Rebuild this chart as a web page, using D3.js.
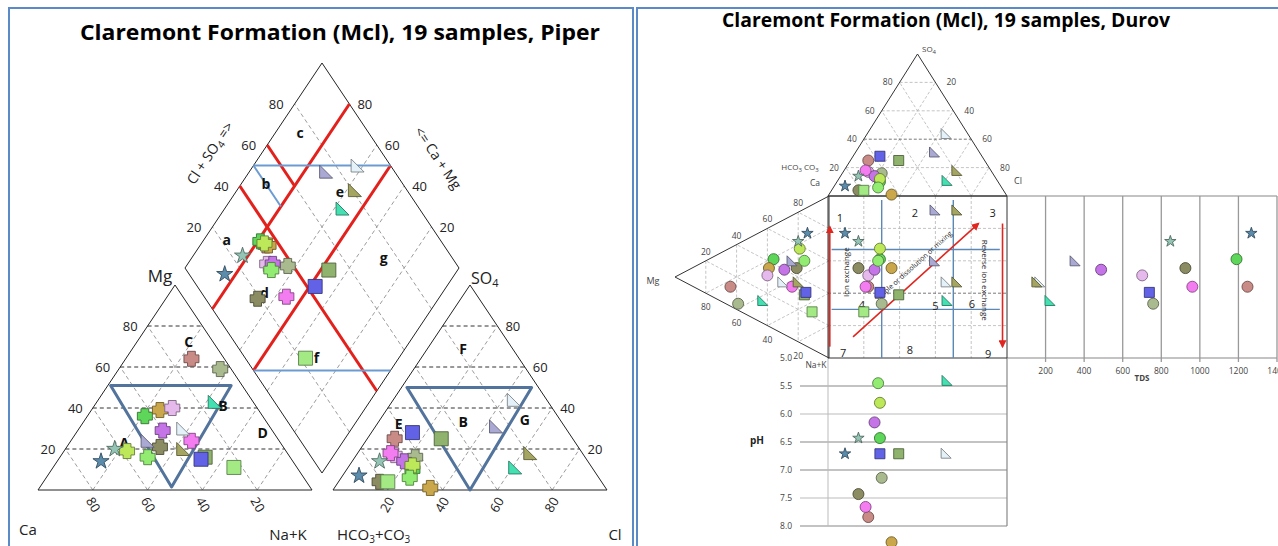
<!DOCTYPE html>
<html>
<head>
<meta charset="utf-8">
<script src="https://cdn.jsdelivr.net/npm/d3@7"></script>
<style>
  body { margin: 0; background: #fff; }
  svg { display: block; font-family: "Open Sans", sans-serif; }
</style>
</head>
<body>
<div id="root"></div>
<script>
var width = 1278;
var height = 546;

// 19 samples: marker, colour, cation % (Ca, Mg, Na+K), anion % (SO4, Cl), TDS, pH
var shapes = ['cross','cross','cross','cross','cross','cross','cross','cross','cross','cross',
              'star','star','square','square','square','tri','tri','tri','tri'];
var colors = ['#c98b86','#a9ba8f','#5ed65a','#c9a74a','#e6b9ec','#c474e6','#f27cf0','#8c8c62','#bde85a','#92ec72',
              '#5b8cab','#94c4b4','#8fb36c','#6262e6','#a3ea84','#a9a9d4','#e4f1f8','#a5a562','#44e0b2'];
var caPct  = [12, 4, 43, 36, 31, 40, 32, 45, 58, 52, 70, 62, 31, 33, 23, 48, 32, 37, 14];
var mgPct  = [64, 59, 36, 39, 40, 29, 24, 21, 19, 16, 14, 20, 16, 15, 11, 24, 30, 20, 43];
var nakPct = [24, 37, 21, 25, 29, 31, 44, 34, 23, 32, 16, 18, 53, 52, 66, 28, 38, 43, 43];
var so4Pct = [25, 16, 10, 1, 17, 14, 18, 4, 12, 6, 7, 14, 25, 28, 4, 31, 44, 18, 11];
var clPct  = [10, 22, 24, 35, 14, 19, 12, 15, 23, 25, 6, 10, 27, 15, 18, 44, 44, 63, 61];
var tdsVal = [1247, 758, 1190, null, 701, 488, 961, 925, null, null, 1267, 847, null, 738, null, 353, 170, 155, 223];
var phVal  = [7.84, 7.14, 6.43, 8.29, null, 6.15, 7.66, 7.43, 5.8, 5.45, 6.71, 6.43, 6.71, 6.71, null, null, 6.7, null, 5.4];

// two extra points sitting at the top of the Durov square (projected %)
var extraAnionProj = [59.8, 72];
var extraCationProj = [8.6, 8.6];
var extraColors = ['#a9a9d4', '#a5a562'];

var tickPct = [20, 40, 60, 80];
var tdsTicks = [200, 400, 600, 800, 1000, 1200, 1400];
var phTicks = [5.0, 5.5, 6.0, 6.5, 7.0, 7.5, 8.0];

// Piper zone outlines (diamond in Ca+Mg / Cl+SO4 %, triangles in ternary %)
var redFrom = [[100, 40], [100, 60], [80, 100], [50, 100]];
var redTo   = [[0, 40], [80, 60], [80, 0], [50, 0]];
var blueFrom = [[100, 50], [100, 50], [50, 0]];
var blueTo   = [[50, 100], [80, 50], [0, 50]];
var cationZone = [[51, 1], [51, 45], [1.5, 48]];
var anionZone = [[50, 2], [50, 47.5], [0, 50]];

var cationLetters = ['C', 'B', 'A', 'D'];
var cationLetterPos = [[72, 19], [41, 47], [23, 20], [28, 68]];
var anionLetters = ['F', 'B', 'G', 'E'];
var anionLetterPos = [[69, 13], [33, 31], [34, 53], [32, 8]];
var diamondLetters = ['a', 'b', 'c', 'd', 'e', 'f', 'g'];
var diamondLetterPos = [[91.5, 22], [91, 50], [91, 75], [65, 23], [62, 75], [30, 26], [30, 75]];

// Durov annotations (projected %: anion along x, cation along y)
var durovNumbers = ['1','2','3','4','5','6','7','8','9'];
var durovNumberPos = [[6.7, 13.6], [48.6, 10.5], [92, 10.5], [19, 67], [60, 68], [80.4, 66.7], [8.4, 97], [45.8, 95], [89.4, 97.5]];
var arrowFrom = [[1, 93], [97.5, 17], [14, 87]];
var arrowTo   = [[1, 19], [97.5, 93], [84, 17]];

var svg = d3.select('#root')
  .append('svg')
    .attr('width', width)
    .attr('height', height);

svg.append('rect').attr('width', width).attr('height', height).attr('fill', '#fff');

svg.append('defs').append('marker')
    .attr('id', 'arrowhead')
    .attr('viewBox', '0 0 10 10')
    .attr('refX', 8).attr('refY', 5)
    .attr('markerWidth', 5).attr('markerHeight', 5)
    .attr('orient', 'auto')
  .append('path')
    .attr('d', 'M0,0L10,5L0,10Z')
    .attr('fill', '#e0261f');

// panel frames
svg.append('rect').attr('x', 9).attr('y', 8).attr('width', 624).attr('height', 560)
  .attr('fill', 'none').attr('stroke', '#5b8ac8').attr('stroke-width', 2);
svg.append('rect').attr('x', 637).attr('y', 8).attr('width', 660).attr('height', 560)
  .attr('fill', 'none').attr('stroke', '#5b8ac8').attr('stroke-width', 2);

svg.append('text').attr('x', 340).attr('y', 40)
  .attr('text-anchor', 'middle').attr('font-size', 22).attr('font-weight', 700)
  .attr('textLength', 520).attr('lengthAdjust', 'spacingAndGlyphs')
  .text('Claremont Formation (Mcl), 19 samples, Piper');
svg.append('text').attr('x', 946).attr('y', 27)
  .attr('text-anchor', 'middle').attr('font-size', 19).attr('font-weight', 700)
  .attr('textLength', 448).attr('lengthAdjust', 'spacingAndGlyphs')
  .text('Claremont Formation (Mcl), 19 samples, Durov');

function line(g, p, q, stroke, w, dash) {
  return g.append('line')
    .attr('x1', p[0]).attr('y1', p[1]).attr('x2', q[0]).attr('y2', q[1])
    .attr('stroke', stroke).attr('stroke-width', w)
    .attr('stroke-dasharray', dash || null);
}

function poly(g, pts, stroke, w) {
  return g.append('path')
    .attr('d', d3.line()(pts) + 'Z')
    .attr('fill', 'none').attr('stroke', stroke).attr('stroke-width', w)
    .attr('stroke-linejoin', 'round');
}

function label(g, p, txt, size, anchor, extra) {
  var t = g.append('text')
    .attr('x', p[0]).attr('y', p[1])
    .attr('font-size', size).attr('fill', '#222')
    .attr('text-anchor', anchor || 'middle')
    .text(txt);
  if (extra) extra(t);
  return t;
}

function shapePath(type, s) {
  var h = s / 2;
  if (type === 'square') return 'M' + (-h) + ',' + (-h) + 'H' + h + 'V' + h + 'H' + (-h) + 'Z';
  if (type === 'tri') return 'M' + (-h) + ',' + (-h) + 'L' + (-h) + ',' + h + 'L' + h + ',' + h + 'Z';
  if (type === 'cross') {
    var a = s * 0.26;
    return 'M' + (-a) + ',' + (-h) + 'H' + a + 'V' + (-a) + 'H' + h + 'V' + a + 'H' + a + 'V' + h +
      'H' + (-a) + 'V' + a + 'H' + (-h) + 'V' + (-a) + 'H' + (-a) + 'Z';
  }
  if (type === 'star') return d3.symbol(d3.symbolStar, h * h / 0.8908)();
  return d3.symbol(d3.symbolCircle, Math.PI * h * h)();
}

function drawMarks(g, pts, sizes) {
  g.selectAll(null)
    .data(pts)
    .enter()
    .append('path')
      .attr('d', function(d) { return shapePath(d.shape, sizes[d.shape]); })
      .attr('transform', function(d) { return 'translate(' + d.x + ',' + d.y + ')'; })
      .attr('fill', function(d) { return d.color; })
      .attr('stroke', function(d) { return d3.color(d.color).darker(1.7); })
      .attr('stroke-width', 0.9)
      .attr('stroke-linejoin', 'round');
}

var idx = d3.range(shapes.length);
var grayDash = '#9c9c9c';

// ---------------- Piper ----------------
var xC = d3.scaleLinear().domain([0, 100]).range([38, 312]);
var xA = d3.scaleLinear().domain([0, 100]).range([333, 607]);
var yT = d3.scaleLinear().domain([0, 100]).range([490, 285]);
var xD = d3.scaleLinear().domain([-100, 100]).range([185, 459]);
var yD = d3.scaleLinear().domain([0, 200]).range([473, 63]);

function cat(mg, nak) { return [xC(nak + mg / 2), yT(mg)]; }
function an(so4, cl) { return [xA(cl + so4 / 2), yT(so4)]; }
function dia(cm, s) { return [xD(s - cm), yD(cm + s)]; }

var pg = svg.append('g');

tickPct.forEach(function(v) {
  line(pg, cat(0, v), cat(100 - v, v), grayDash, 1, '4,3');
  line(pg, cat(0, 100 - v), cat(100 - v, 0), grayDash, 1, '4,3');
  line(pg, an(0, v), an(100 - v, v), grayDash, 1, '4,3');
  line(pg, an(0, 100 - v), an(100 - v, 0), grayDash, 1, '4,3');
  line(pg, dia(v, 0), dia(v, 100), grayDash, 1, '4,3');
  line(pg, dia(0, v), dia(100, v), grayDash, 1, '4,3');
  line(pg, cat(v, 0), cat(v, 100 - v), '#333', 1, '4,3');
  line(pg, an(v, 0), an(v, 100 - v), '#333', 1, '4,3');
});

poly(pg, [cat(0, 0), cat(100, 0), cat(0, 100)], '#222', 1);
poly(pg, [an(0, 0), an(100, 0), an(0, 100)], '#222', 1);
poly(pg, [dia(0, 0), dia(100, 0), dia(100, 100), dia(0, 100)], '#222', 1);

// zone lines
redFrom.forEach(function(p, i) {
  line(pg, dia(p[0], p[1]), dia(redTo[i][0], redTo[i][1]), '#e3211c', 3);
});
blueFrom.forEach(function(p, i) {
  line(pg, dia(p[0], p[1]), dia(blueTo[i][0], blueTo[i][1]), '#6c9bd2', 2);
});
poly(pg, cationZone.map(function(p) { return cat(p[0], p[1]); }), '#52739c', 3);
poly(pg, anionZone.map(function(p) { return an(p[0], p[1]); }), '#52739c', 3);

// tick labels
tickPct.forEach(function(v) {
  var p = cat(v, 0);
  label(pg, [p[0] - 10, p[1] + 5], v, 13, 'end');
  p = an(v, 100 - v);
  label(pg, [p[0] + 8, p[1] + 5], v, 13, 'start');
  p = dia(100, v);
  label(pg, [p[0] - 11, p[1] + 5], v, 13, 'end');
  p = dia(v, 100);
  label(pg, [p[0] + 8, p[1] + 5], v, 13, 'start');
  p = cat(0, 100 - v);
  label(pg, [p[0], 509], v, 13, 'middle', function(t) {
    t.attr('transform', 'rotate(60,' + p[0] + ',505)');
  });
  p = an(0, v);
  label(pg, [p[0], 509], v, 13, 'middle', function(t) {
    t.attr('transform', 'rotate(-60,' + p[0] + ',505)');
  });
});

// axis names
label(pg, [160, 282], 'Mg', 17);
label(pg, [28, 535], 'Ca', 15);
label(pg, [288, 540], 'Na+K', 15);
label(pg, [337, 540], 'HCO', 15, 'start', function(t) {
  t.append('tspan').attr('font-size', 10).attr('dy', 3).text('3');
  t.append('tspan').attr('dy', -3).text('+CO');
  t.append('tspan').attr('font-size', 10).attr('dy', 3).text('3');
});
label(pg, [615, 540], 'Cl', 15);
label(pg, [471, 284], 'SO', 16, 'start', function(t) {
  t.append('tspan').attr('font-size', 11).attr('dy', 3).text('4');
});
label(pg, [210, 158], 'Cl + SO', 14, 'middle', function(t) {
  t.append('tspan').attr('font-size', 10).attr('dy', 3).text('4');
  t.append('tspan').attr('dy', -3).text(' =>');
  t.attr('transform', 'rotate(-56,210,153)');
});
label(pg, [438, 163], '<= Ca + Mg', 14, 'middle', function(t) {
  t.attr('transform', 'rotate(56,438,158)');
});

// zone letters
cationLetters.forEach(function(s, i) {
  var p = cat(cationLetterPos[i][0], cationLetterPos[i][1]);
  label(pg, [p[0], p[1] + 5], s, 14, 'middle', function(t) { t.attr('font-weight', 700).attr('fill', '#111'); });
});
anionLetters.forEach(function(s, i) {
  var p = an(anionLetterPos[i][0], anionLetterPos[i][1]);
  label(pg, [p[0], p[1] + 5], s, 14, 'middle', function(t) { t.attr('font-weight', 700).attr('fill', '#111'); });
});
diamondLetters.forEach(function(s, i) {
  var p = dia(diamondLetterPos[i][0], diamondLetterPos[i][1]);
  label(pg, [p[0], p[1] + 5], s, 14, 'middle', function(t) { t.attr('font-weight', 700).attr('fill', '#111'); });
});

// samples
var piperSizes = { cross: 15, star: 17, square: 14, tri: 13 };
drawMarks(pg.append('g'), idx.map(function(i) {
  var p = cat(mgPct[i], nakPct[i]);
  return { x: p[0], y: p[1], shape: shapes[i], color: colors[i] };
}), piperSizes);
drawMarks(pg.append('g'), idx.map(function(i) {
  var p = an(so4Pct[i], clPct[i]);
  return { x: p[0], y: p[1], shape: shapes[i], color: colors[i] };
}), piperSizes);
drawMarks(pg.append('g'), idx.map(function(i) {
  var p = dia(caPct[i] + mgPct[i], so4Pct[i] + clPct[i]);
  return { x: p[0], y: p[1], shape: shapes[i], color: colors[i] };
}), piperSizes);

// ---------------- Durov ----------------
var xTop = d3.scaleLinear().domain([0, 100]).range([828, 1007]);   // Cl + SO4/2
var yTop = d3.scaleLinear().domain([0, 100]).range([196, 54]);     // SO4
var yL = d3.scaleLinear().domain([0, 100]).range([196, 358]);      // Na+K + Mg/2
var xL = d3.scaleLinear().domain([0, 100]).range([829, 675]);      // Mg
var xTds = d3.scaleLinear().domain([0, 1400]).range([1007, 1277]);
var yPh = d3.scaleLinear().domain([5, 8]).range([358, 526]);

function topPt(so4, cl) { return [xTop(cl + so4 / 2), yTop(so4)]; }
function lftPt(mg, nak) { return [xL(mg), yL(nak + mg / 2)]; }

var dg = svg.append('g');
var lightDash = '#b5b5b5';

tickPct.forEach(function(v) {
  line(dg, topPt(0, v), topPt(100 - v, v), lightDash, 0.8, '3,2');
  line(dg, topPt(0, 100 - v), topPt(100 - v, 0), lightDash, 0.8, '3,2');
  line(dg, topPt(v, 0), topPt(v, 100 - v), v === 40 ? '#555' : lightDash, 0.8, '3,2');
  line(dg, lftPt(v, 0), lftPt(v, 100 - v), lightDash, 0.8, '3,2');
  line(dg, lftPt(0, v), lftPt(100 - v, v), lightDash, 0.8, '3,2');
  line(dg, lftPt(0, 100 - v), lftPt(100 - v, 0), lightDash, 0.8, '3,2');
  line(dg, [xTop(v), yL(0)], [xTop(v), yL(100)], lightDash, 0.8, '3,2');
  line(dg, [xTop(0), yL(v)], [xTop(100), yL(v)], v === 60 ? '#555' : lightDash, 0.8, '3,2');
});

// TDS panel grid
line(dg, [xTds(0), yL(0)], [xTds(1400), yL(0)], '#888', 1.2);
line(dg, [xTds(0), yL(100)], [xTds(1400), yL(100)], '#888', 1.2);
tdsTicks.forEach(function(v) {
  line(dg, [xTds(v), yL(0)], [xTds(v), yL(100) + 4], '#999', 1.3);
  label(dg, [xTds(v), 374], v, 8.5, 'middle', function(t) { t.attr('fill', '#444'); });
});
label(dg, [xTds(700), 381], 'TDS', 8, 'middle', function(t) { t.attr('font-weight', 700).attr('fill', '#444'); });

// pH panel grid
phTicks.forEach(function(v) {
  if (v > 5) {
    var light = (v === 6.0 || v === 7.5);
    line(dg, [800, yPh(v)], [xTop(100), yPh(v)], light ? '#bbb' : '#888', 1.2);
  }
  label(dg, [792, yPh(v) + 3], v.toFixed(1), 8.5, 'end', function(t) { t.attr('fill', '#444'); });
});
line(dg, [xTop(0), yPh(5)], [xTop(0), yPh(8)], '#bbb', 1);
line(dg, [xTop(100), yPh(5)], [xTop(100), yPh(8)], '#888', 1.2);
label(dg, [757, 444], 'pH', 10, 'middle', function(t) { t.attr('font-weight', 700); });

// outlines
poly(dg, [topPt(0, 0), topPt(100, 0), topPt(0, 100)], '#333', 1);
poly(dg, [lftPt(0, 0), lftPt(100, 0), lftPt(0, 100)], '#333', 1);
poly(dg, [[xTop(0), yL(0)], [xTop(100), yL(0)], [xTop(100), yL(100)], [xTop(0), yL(100)]], '#333', 1);

// blue dividers
[30, 70].forEach(function(v) {
  line(dg, [xTop(v), yL(0) + 4], [xTop(v), yL(100)], '#5b88b5', 1.4);
});
[33, 70].forEach(function(v) {
  line(dg, [xTop(2), yL(v)], [xTop(96), yL(v)], '#5b88b5', 1.4);
});

// arrows
arrowFrom.forEach(function(p, i) {
  line(dg, [xTop(p[0]), yL(p[1])], [xTop(arrowTo[i][0]), yL(arrowTo[i][1])], '#e0261f', 1.6)
    .attr('marker-end', 'url(#arrowhead)');
});

durovNumbers.forEach(function(s, i) {
  label(dg, [xTop(durovNumberPos[i][0]), yL(durovNumberPos[i][1]) + 4], s, 11);
});
label(dg, [xTop(11.7), yL(47)], 'Ion exchange', 8, 'middle', function(t) {
  t.attr('transform', 'rotate(-90,' + xTop(11.7) + ',' + yL(47) + ')');
});
label(dg, [xTop(86), yL(52)], 'Reverse ion exchange', 8, 'middle', function(t) {
  t.attr('transform', 'rotate(90,' + xTop(86) + ',' + yL(52) + ')');
});
label(dg, [xTop(48.6), yL(44.4)], 'Simple or dissolution or mixing', 7, 'middle', function(t) {
  t.attr('transform', 'rotate(-42,' + xTop(48.6) + ',' + yL(44.4) + ')');
});

// triangle tick labels
tickPct.forEach(function(v) {
  var p = topPt(v, 0);
  label(dg, [p[0] - 7, p[1] + 3], v, 8.5, 'end', function(t) { t.attr('fill', '#444'); });
  p = topPt(v, 100 - v);
  label(dg, [p[0] + 11, p[1] + 3], 100 - v, 8.5, 'start', function(t) { t.attr('fill', '#444'); });
  p = lftPt(v, 0);
  label(dg, [p[0], p[1] - 6], 100 - v, 8.5, 'middle', function(t) { t.attr('fill', '#444'); });
  p = lftPt(v, 100 - v);
  label(dg, [p[0], p[1] + 17], v, 8.5, 'middle', function(t) { t.attr('fill', '#444'); });
});

label(dg, [922, 52], 'SO', 8, 'start', function(t) {
  t.attr('fill', '#444');
  t.append('tspan').attr('font-size', 6).attr('dy', 2).text('4');
});
label(dg, [800, 170], 'HCO', 8, 'middle', function(t) {
  t.attr('fill', '#444');
  t.append('tspan').attr('font-size', 6).attr('dy', 2).text('3');
  t.append('tspan').attr('dy', -2).text(' CO');
  t.append('tspan').attr('font-size', 6).attr('dy', 2).text('3');
});
label(dg, [815, 186], 'Ca', 8.5, 'middle', function(t) { t.attr('fill', '#444'); });
label(dg, [1018, 184], 'Cl', 9, 'middle', function(t) { t.attr('fill', '#444'); });
label(dg, [653, 284], 'Mg', 9, 'middle', function(t) { t.attr('fill', '#444'); });
label(dg, [816, 368], 'Na+K', 8.5, 'middle', function(t) { t.attr('fill', '#444'); });

// samples in the Durov panels
var durovSizes = { circle: 11, star: 12, square: 10, tri: 10 };
function durovShape(i) { return shapes[i] === 'cross' ? 'circle' : shapes[i]; }
function anionProj(i) { return clPct[i] + so4Pct[i] / 2; }
function cationProj(i) { return nakPct[i] + mgPct[i] / 2; }

drawMarks(dg.append('g'), idx.map(function(i) {
  var p = topPt(so4Pct[i], clPct[i]);
  return { x: p[0], y: p[1], shape: durovShape(i), color: colors[i] };
}), durovSizes);
drawMarks(dg.append('g'), idx.map(function(i) {
  var p = lftPt(mgPct[i], nakPct[i]);
  return { x: p[0], y: p[1], shape: durovShape(i), color: colors[i] };
}), durovSizes);
drawMarks(dg.append('g'), idx.map(function(i) {
  return { x: xTop(anionProj(i)), y: yL(cationProj(i)), shape: durovShape(i), color: colors[i] };
}).concat(extraColors.map(function(c, j) {
  return { x: xTop(extraAnionProj[j]), y: yL(extraCationProj[j]), shape: 'tri', color: c };
})), durovSizes);
drawMarks(dg.append('g'), idx.filter(function(i) { return tdsVal[i] != null; }).map(function(i) {
  return { x: xTds(tdsVal[i]), y: yL(cationProj(i)), shape: durovShape(i), color: colors[i] };
}), durovSizes);
drawMarks(dg.append('g'), idx.filter(function(i) { return phVal[i] != null; }).map(function(i) {
  return { x: xTop(anionProj(i)), y: yPh(phVal[i]), shape: durovShape(i), color: colors[i] };
}), durovSizes);
</script>
</body>
</html>
